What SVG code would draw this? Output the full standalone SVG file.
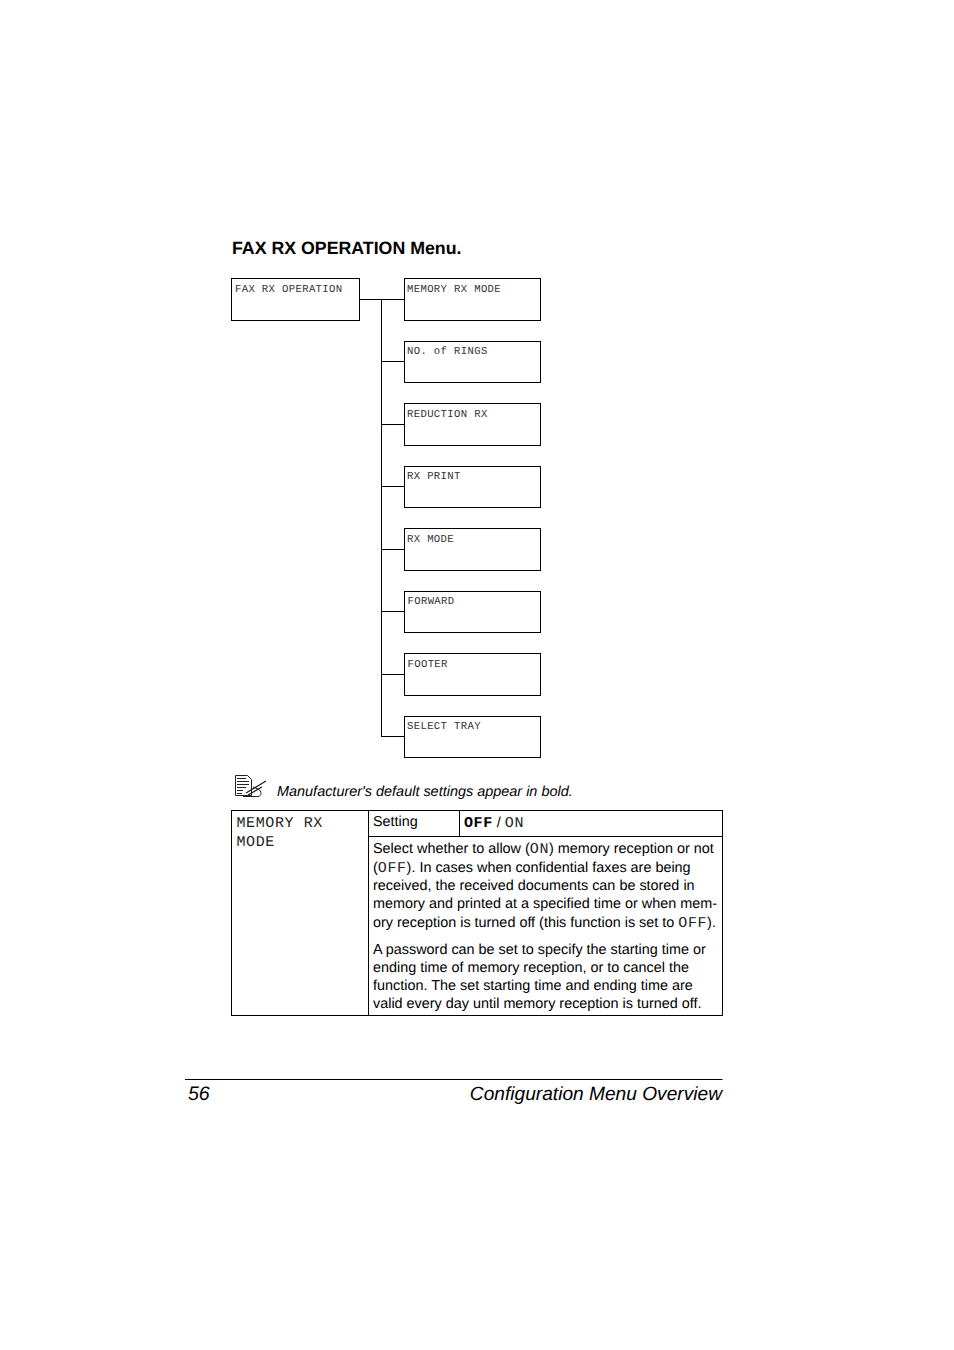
<svg xmlns="http://www.w3.org/2000/svg" width="954" height="1350" viewBox="0 0 954 1350">
<style>
text{font-family:"Liberation Sans",Arial,sans-serif;fill:#000;white-space:pre;text-rendering:geometricPrecision}
.n{font-family:"Liberation Mono","Courier New",monospace;font-size:10.6px;letter-spacing:.36px;fill:#333}
.b{fill:#fff;stroke:#000;stroke-width:1}
.l{fill:none;stroke:#000;stroke-width:1}
.t{font-size:14.4px}
.tm{font-family:"Liberation Mono","Courier New",monospace;font-size:15px;letter-spacing:.6px;fill:#222}
.tb{font-family:"Liberation Mono","Courier New",monospace;font-size:15px;letter-spacing:.6px;font-weight:bold}
</style>
<rect width="954" height="1350" fill="#fff"/>
<text x="232" y="254" font-size="17.75" font-weight="bold">FAX RX OPERATION Menu.</text>
<g id="connectors">
<path class="l" d="M359 299.500H404M381.500 299.500V736.500M381 361.500H404M381 424.500H404M381 486.500H404M381 549.500H404M381 611.500H404M381 674.500H404M381 736.500H404"/>
</g>
<g id="n-fax"><rect class="b" x="231.500" y="278.500" width="128" height="42"/><text class="n" x="235" y="292">FAX RX OPERATION</text></g>
<g id="n-memory"><rect class="b" x="404.500" y="278.500" width="136" height="42"/><text class="n" x="407" y="292">MEMORY RX MODE</text></g>
<g id="n-rings"><rect class="b" x="404.500" y="341.500" width="136" height="41"/><text class="n" x="407" y="354">NO. of RINGS</text></g>
<g id="n-reduction"><rect class="b" x="404.500" y="403.500" width="136" height="42"/><text class="n" x="407" y="417">REDUCTION RX</text></g>
<g id="n-print"><rect class="b" x="404.500" y="466.500" width="136" height="41"/><text class="n" x="407" y="479">RX PRINT</text></g>
<g id="n-mode"><rect class="b" x="404.500" y="528.500" width="136" height="42"/><text class="n" x="407" y="542">RX MODE</text></g>
<g id="n-forward"><rect class="b" x="404.500" y="591.500" width="136" height="41"/><text class="n" x="407.500" y="604">FORWARD</text></g>
<g id="n-footer"><rect class="b" x="404.500" y="653.500" width="136" height="42"/><text class="n" x="407.500" y="667">FOOTER</text></g>
<g id="n-tray"><rect class="b" x="404.500" y="716.500" width="136" height="41"/><text class="n" x="407" y="729">SELECT TRAY</text></g>
<g id="note-icon" fill="none" stroke="#222" stroke-width="1">
<path d="M235.500 775.500H247.500L251.500 779.500V795.500H235.500Z"/>
<path d="M237 778.500H246M237 781.500H249M237 784.500H249M237 787.500H246M237 790.500H243M237 793.500H242" stroke-width="1"/>
<path d="M246 793L266 781M248 795L262 787" stroke-width="1.3"/>
<path d="M243 796.500H258C262 796 262 791 258 789L253 787" stroke-width="1"/>
</g>
<text x="277" y="796" font-size="14.45" font-style="italic">Manufacturer's default settings appear in bold.</text>
<g id="table">
<rect class="l" x="231.500" y="810.500" width="491" height="205"/>
<path class="l" d="M368.500 810.500V1015.500M368.500 836.500H722.500M459.500 810.500V836.500"/>
</g>
<text class="tm" x="236.500" y="827">MEMORY RX</text>
<text class="tm" x="236.500" y="846">MODE</text>
<text class="t" x="373" y="826">Setting</text>
<text class="t" x="464" y="827"><tspan class="tb">OFF</tspan> / <tspan class="tm">ON</tspan></text>
<text class="t" x="373" y="853">Select whether to allow (<tspan class="tm">ON</tspan>) memory reception or not</text>
<text class="t" x="373" y="872">(<tspan class="tm">OFF</tspan>). In cases when confidential faxes are being</text>
<text class="t" x="373" y="890">received, the received documents can be stored in</text>
<text class="t" x="373" y="908">memory and printed at a specified time or when mem-</text>
<text class="t" x="373" y="927">ory reception is turned off (this function is set to <tspan class="tm">OFF</tspan>).</text>
<text class="t" x="373" y="954">A password can be set to specify the starting time or</text>
<text class="t" x="373" y="972">ending time of memory reception, or to cancel the</text>
<text class="t" x="373" y="990">function. The set starting time and ending time are</text>
<text class="t" x="373" y="1008">valid every day until memory reception is turned off.</text>
<path class="l" d="M185 1079.500H722.500"/>
<text x="188" y="1100" font-size="19.5" font-style="italic">56</text>
<text x="722" y="1100" font-size="19.15" font-style="italic" text-anchor="end">Configuration Menu Overview</text>
</svg>
